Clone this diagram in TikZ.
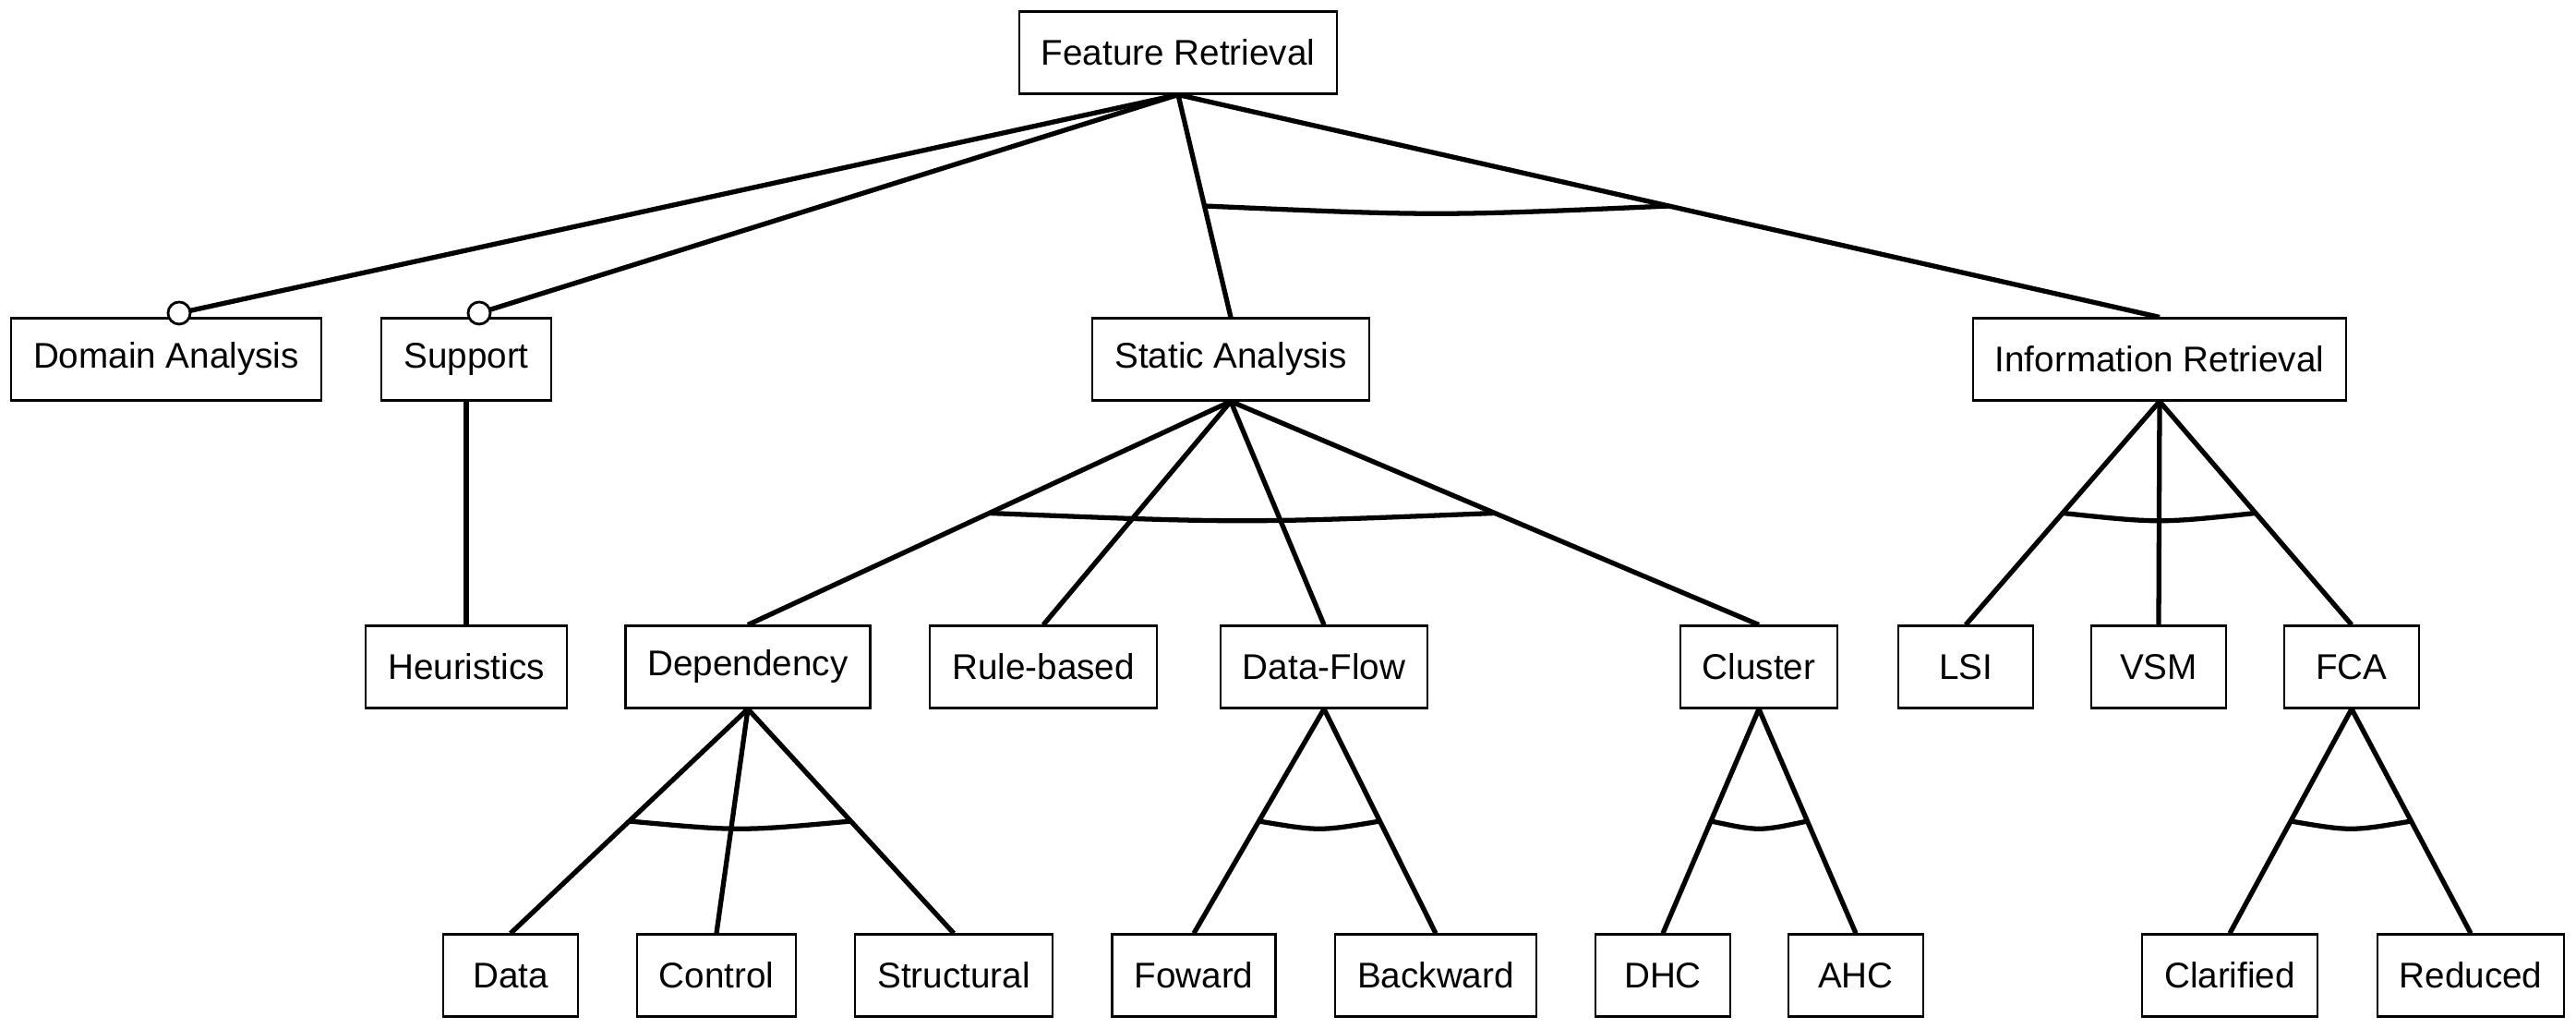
\documentclass[tikz,border=0pt]{standalone}
\usepackage{fontspec}
\setmainfont{Liberation Sans}
\usetikzlibrary{calc}

\tikzset{
  feat/.style={draw, line width=0.6pt, minimum width=1.46cm, minimum height=0.89cm,
               inner xsep=0.24cm, font=\fontsize{11}{13}\selectfont},
  link/.style={line width=1.5pt},
  optcirc/.style={draw, fill=white, line width=0.8pt},
}

\begin{document}
\begin{tikzpicture}
  \useasboundingbox (0,0) rectangle (27.9,11.13);

  % features
  \node[feat] (fr) at (12.76,10.56) {Feature Retrieval};

  \node[feat] (da) at (1.80,7.24) {Domain Analysis};
  \node[feat] (sp) at (5.05,7.24) {Support};
  \node[feat] (sa) at (13.33,7.24) {Static Analysis};
  \node[feat] (ir) at (23.39,7.24) {Information Retrieval};

  \node[feat] (he) at (5.05,3.91) {Heuristics};
  \node[feat] (dep) at (8.10,3.91) {Dependency};
  \node[feat] (rb) at (11.30,3.91) {Rule-based};
  \node[feat] (df) at (14.34,3.91) {Data-Flow};
  \node[feat] (cl) at (19.05,3.91) {Cluster};
  \node[feat] (lsi) at (21.29,3.91) {LSI};
  \node[feat] (vsm) at (23.38,3.91) {VSM};
  \node[feat] (fca) at (25.47,3.91) {FCA};

  \node[feat] (data) at (5.53,0.57) {Data};
  \node[feat] (ctrl) at (7.76,0.57) {Control};
  \node[feat] (struc) at (10.33,0.57) {Structural};
  \node[feat] (fw) at (12.93,0.57) {Foward};
  \node[feat] (bw) at (15.55,0.57) {Backward};
  \node[feat] (dhc) at (18.01,0.57) {DHC};
  \node[feat] (ahc) at (20.10,0.57) {AHC};
  \node[feat] (clar) at (24.15,0.57) {Clarified};
  \node[feat] (red) at (26.76,0.57) {Reduced};

  % optional features
  \coordinate (daopt) at ($(da.north)+(0.14,0.045)$);
  \coordinate (spopt) at ($(sp.north)+(0.14,0.045)$);
  \draw[link] (fr.south) -- (daopt);
  \draw[link] (fr.south) -- (spopt);
  \draw[optcirc] (daopt) circle [radius=0.12];
  \draw[optcirc] (spopt) circle [radius=0.12];

  \draw[link] (sp.south) -- (he.north);

  % or-groups
  \draw[link] (fr.south) -- (sa.north);
  \draw[link] (fr.south) -- (ir.north);
  \draw[link] ($(fr.south)!0.5!(sa.north)$) .. controls ($($(fr.south)!0.5!(sa.north)$)!0.5!($(fr.south)!0.5!(ir.north)$)+(0,-0.11)$) .. ($(fr.south)!0.5!(ir.north)$);

  \foreach \c in {dep,rb,df,cl}
    \draw[link] (sa.south) -- (\c.north);
  \draw[link] ($(sa.south)!0.5!(dep.north)$) .. controls ($($(sa.south)!0.5!(dep.north)$)!0.5!($(sa.south)!0.5!(cl.north)$)+(0,-0.11)$) .. ($(sa.south)!0.5!(cl.north)$);

  \foreach \c in {lsi,vsm,fca}
    \draw[link] (ir.south) -- (\c.north);
  \draw[link] ($(ir.south)!0.5!(lsi.north)$) .. controls ($($(ir.south)!0.5!(lsi.north)$)!0.5!($(ir.south)!0.5!(fca.north)$)+(0,-0.11)$) .. ($(ir.south)!0.5!(fca.north)$);

  \foreach \c in {data,ctrl,struc}
    \draw[link] (dep.south) -- (\c.north);
  \draw[link] ($(dep.south)!0.5!(data.north)$) .. controls ($($(dep.south)!0.5!(data.north)$)!0.5!($(dep.south)!0.5!(struc.north)$)+(0,-0.11)$) .. ($(dep.south)!0.5!(struc.north)$);

  \foreach \c in {fw,bw}
    \draw[link] (df.south) -- (\c.north);
  \draw[link] ($(df.south)!0.5!(fw.north)$) .. controls ($($(df.south)!0.5!(fw.north)$)!0.5!($(df.south)!0.5!(bw.north)$)+(0,-0.11)$) .. ($(df.south)!0.5!(bw.north)$);

  \foreach \c in {dhc,ahc}
    \draw[link] (cl.south) -- (\c.north);
  \draw[link] ($(cl.south)!0.5!(dhc.north)$) .. controls ($($(cl.south)!0.5!(dhc.north)$)!0.5!($(cl.south)!0.5!(ahc.north)$)+(0,-0.11)$) .. ($(cl.south)!0.5!(ahc.north)$);

  \foreach \c in {clar,red}
    \draw[link] (fca.south) -- (\c.north);
  \draw[link] ($(fca.south)!0.5!(clar.north)$) .. controls ($($(fca.south)!0.5!(clar.north)$)!0.5!($(fca.south)!0.5!(red.north)$)+(0,-0.11)$) .. ($(fca.south)!0.5!(red.north)$);
\end{tikzpicture}
\end{document}
